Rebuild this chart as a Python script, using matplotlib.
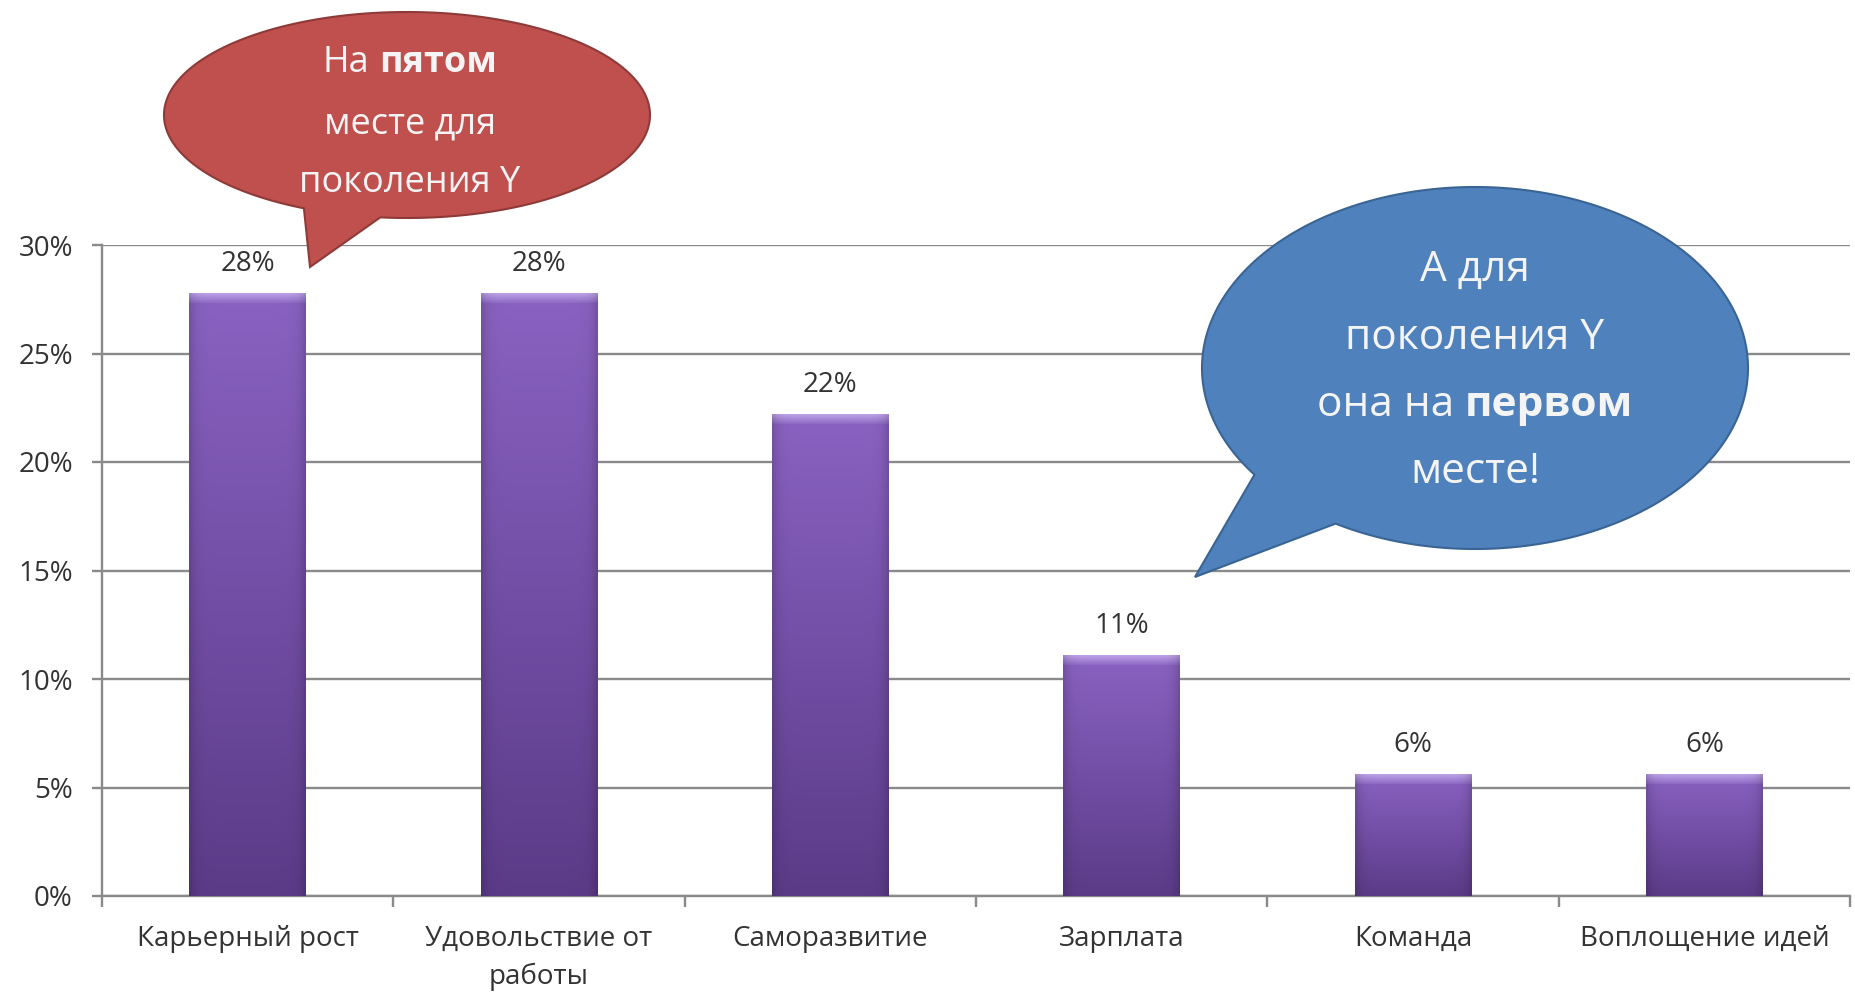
import numpy as np
import matplotlib
matplotlib.use("Agg")
import matplotlib.pyplot as plt
from matplotlib.path import Path
from matplotlib.patches import PathPatch
from matplotlib.colors import to_rgb

categories = ["Карьерный рост", "Удовольствие от\nработы", "Саморазвитие",
              "Зарплата", "Команда", "Воплощение идей"]
values = [27.8, 27.8, 22.2, 11.1, 5.6, 5.6]
y_ticks = [0, 5, 10, 15, 20, 25, 30]

# speech bubbles: (normal part, bold part) per line
red_lines = [("На", "пятом"), ("месте для", ""), ("поколения Y", "")]
blue_lines = [("А для", ""), ("поколения Y", ""), ("она на", "первом"), ("месте!", "")]

W, H = 1856, 998
GRID = "#8a8a8a"
TXT = "#333333"

plt.rcParams["font.family"] = ["Open Sans", "DejaVu Sans"]

fig = plt.figure(figsize=(W / 100, H / 100), dpi=100)
ax = fig.add_axes([102 / W, 1 - 896 / H, (1850 - 102) / W, (896 - 245) / H])

x = np.arange(len(categories))
bars = ax.bar(x, values, width=0.4, color="#7552a8", zorder=2)

# purple gradient fill with a lighter bevel on top
top_c, bot_c = np.array(to_rgb("#8a62c2")), np.array(to_rgb("#5b3b88"))
cap_hi, cap_lo = np.array(to_rgb("#bea2e8")), np.array(to_rgb("#8f6bc6"))
u = np.linspace(0, 1, 64)
edge = 1 - 0.16 * np.abs(2 * u - 1) ** 10
t = np.linspace(0, 1, 256)[:, None, None]
body = (top_c + (bot_c - top_c) * t) * edge[None, :, None]
tc = np.linspace(0, 1, 16)[:, None, None]
cap = (cap_hi + (cap_lo - cap_hi) * tc) * edge[None, :, None]
cap_h = 0.45
for b, v in zip(bars, values):
    x0, x1 = b.get_x(), b.get_x() + b.get_width()
    im = ax.imshow(body, extent=(x0, x1, 0, v), origin="upper", aspect="auto",
                   interpolation="bilinear", zorder=3)
    im.set_clip_path(b)
    im2 = ax.imshow(cap, extent=(x0, x1, v - cap_h, v), origin="upper", aspect="auto",
                    interpolation="bilinear", zorder=4)
    im2.set_clip_path(b)
    ax.annotate(f"{v:.0f}%", (b.get_x() + b.get_width() / 2, v), xytext=(0, 16),
                textcoords="offset points", ha="center", va="baseline",
                fontsize=20, color=TXT)

ax.set_xlim(-0.5, len(categories) - 0.5)
ax.set_ylim(0, 30)

ax.set_yticks(y_ticks, [f"{v}%" for v in y_ticks])
ax.yaxis.grid(True, color=GRID, lw=1.7)
ax.set_axisbelow(True)
ax.tick_params(axis="y", length=7, width=1.7, color=GRID, labelsize=20,
               labelcolor=TXT, pad=14)

ax.set_xticks(np.arange(-0.5, len(categories), 1))
ax.set_xticklabels([])
ax.set_xticks(x, minor=True)
ax.set_xticklabels(categories, minor=True)
ax.tick_params(axis="x", which="major", length=8, width=1.7, color=GRID)
ax.tick_params(axis="x", which="minor", length=0, labelsize=20, labelcolor=TXT, pad=21)
for lbl in ax.get_xticklabels(minor=True):
    lbl.set_linespacing(1.45)

for s in ["top", "right"]:
    ax.spines[s].set_visible(False)
for s in ["left", "bottom"]:
    ax.spines[s].set_color(GRID)
    ax.spines[s].set_linewidth(1.7)


def px(xp, yp):
    return xp / W, 1 - yp / H


def bubble(cx, cy, a, b, p1, p2, tip, face, edgec):
    t1 = np.arctan2((p1[1] - cy) / b, (p1[0] - cx) / a)
    t2 = np.arctan2((p2[1] - cy) / b, (p2[0] - cx) / a)
    d = (t1 - t2) % (2 * np.pi)
    if d > np.pi:
        ang = np.linspace(t2, t2 + d, 300)
    else:
        ang = np.linspace(t2, t2 - (2 * np.pi - d), 300)
    pts = [px(cx + a * np.cos(q), cy + b * np.sin(q)) for q in ang]
    pts.append(px(*tip))
    pts.append(pts[0])
    codes = [Path.MOVETO] + [Path.LINETO] * (len(pts) - 2) + [Path.CLOSEPOLY]
    patch = PathPatch(Path(pts, codes), facecolor=face, edgecolor=edgec, lw=1.5,
                      transform=fig.transFigure, zorder=5)
    fig.add_artist(patch)


def bubble_text(xc, baselines, lines, size):
    r = fig.canvas.get_renderer()
    for yb, (normal, bold) in zip(baselines, lines):
        texts = []
        for s, w in [(normal, "normal"), (bold, "bold")]:
            if s:
                texts.append(fig.text(0, 0, s, fontsize=size, fontweight=w,
                                      color="#f4f4f4", ha="left", va="baseline", zorder=6))
        widths = [tt.get_window_extent(r).width for tt in texts]
        gap = 0.26 * size * 100 / 72
        total = sum(widths) + gap * (len(texts) - 1)
        xs = xc - total / 2
        for tt, w in zip(texts, widths):
            tt.set_position(px(xs, yb))
            xs += w + gap


bubble(407, 115, 243, 103, (302, 210), (383, 207), (310, 267), "#c0504d", "#8e3a38")
bubble_text(410, [72, 133, 192], red_lines, 26)

bubble(1475, 368, 273, 181, (1258, 473), (1337, 522), (1195, 577), "#4f81bd", "#3a6494")
bubble_text(1475, [281, 349, 416, 483], blue_lines, 30.5)

fig.savefig("out.png", dpi=100)
